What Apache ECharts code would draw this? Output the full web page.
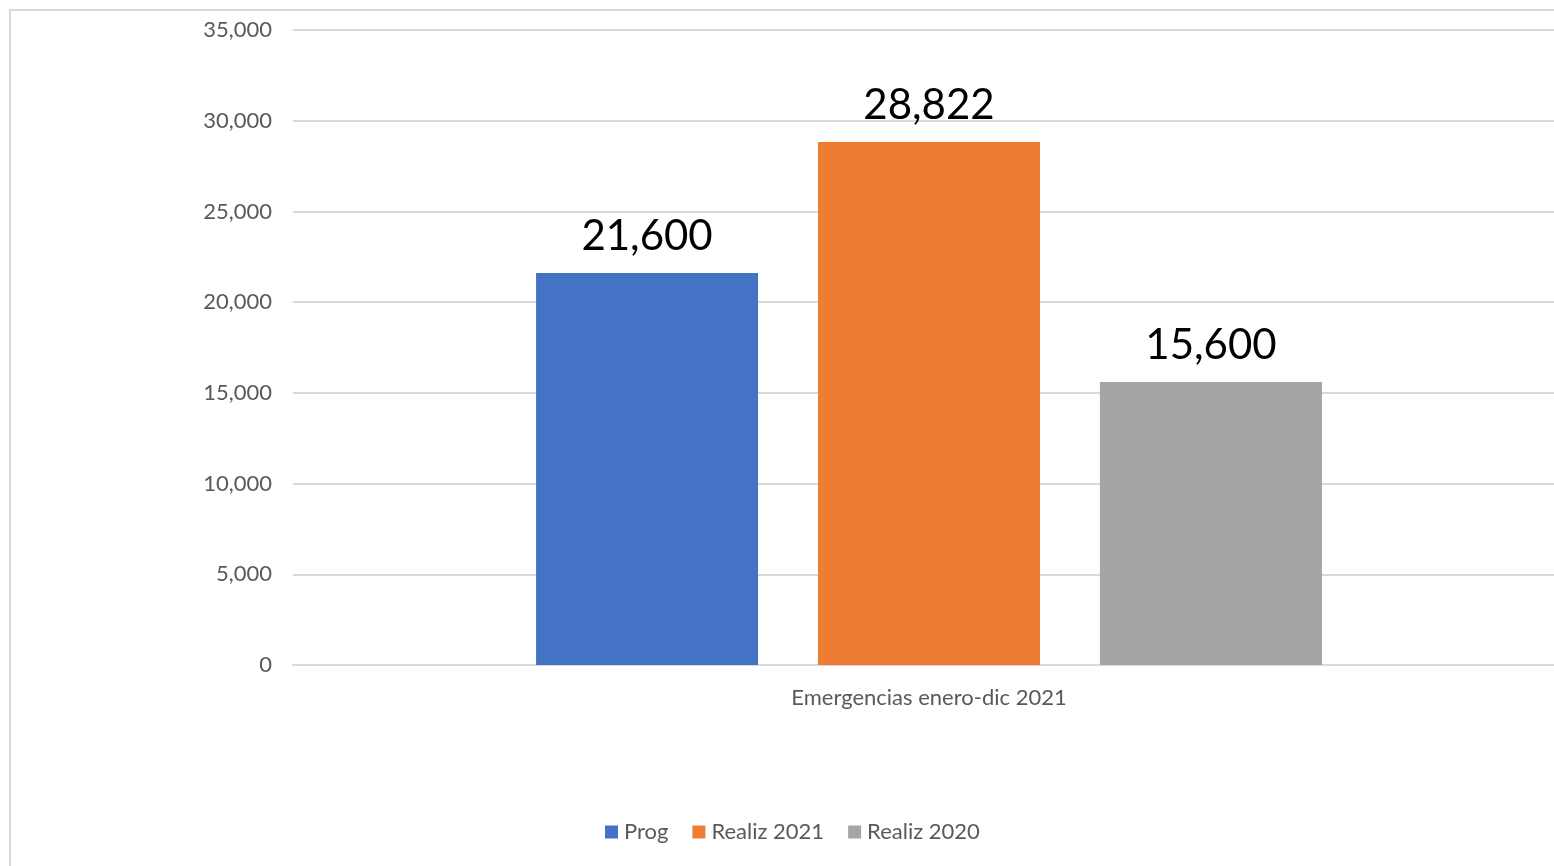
<!DOCTYPE html>
<html>
<head>
<meta charset="utf-8">
<script src="https://cdn.jsdelivr.net/npm/echarts@6/dist/echarts.min.js"></script>
<style>
html,body{margin:0;padding:0;background:#fff;overflow:hidden;width:1554px;height:866px;}
#frame{position:absolute;left:9px;top:9px;width:1580px;height:880px;border:2px solid #d9d9d9;box-sizing:border-box;}
#chart{position:absolute;left:0;top:0;width:1600px;height:866px;}
</style>
</head>
<body>
<div id="frame"></div>
<div id="chart"></div>
<script>
const categories = ['Emergencias enero-dic 2021'];
const seriesNames = ['Prog', 'Realiz 2021', 'Realiz 2020'];
const progValues = [21600];
const realiz2021Values = [28822];
const realiz2020Values = [15600];
const colors = ['#4472c4', '#ed7d31', '#a5a5a5'];
const fontFam = 'Lato, "Open Sans", sans-serif';

const fmt = v => v.toLocaleString('en-US');
const valueSets = [progValues, realiz2021Values, realiz2020Values];

const chart = echarts.init(document.getElementById('chart'), null, {renderer: 'canvas'});
chart.setOption({
  animation: false,
  color: colors,
  grid: {left: 293, top: 30, width: 1272, height: 635, containLabel: false},
  legend: {
    top: 816, left: 600,
    icon: 'rect', itemWidth: 13, itemHeight: 13, itemGap: 24,
    textStyle: {color: '#595959', fontSize: 22, fontFamily: fontFam, padding: [0, 0, 0, 1]},
    data: seriesNames
  },
  xAxis: {
    type: 'category', data: categories,
    axisLine: {lineStyle: {color: '#d9d9d9', width: 2}},
    axisTick: {show: false},
    axisLabel: {color: '#595959', fontSize: 22, fontFamily: fontFam, margin: 22}
  },
  yAxis: {
    type: 'value', min: 0, max: 35000, interval: 5000,
    axisLine: {show: false}, axisTick: {show: false},
    splitLine: {lineStyle: {color: '#d9d9d9', width: 2}},
    axisLabel: {color: '#595959', fontSize: 22, fontFamily: fontFam, margin: 21, formatter: v => fmt(v)}
  },
  series: seriesNames.map((n, i) => ({
    name: n, type: 'bar', data: valueSets[i],
    barWidth: 222, barGap: '27%',
    label: {show: true, position: 'top', distance: 16, color: '#000', fontSize: 42, fontFamily: fontFam, formatter: p => fmt(p.value)}
  }))
});
</script>
</body>
</html>
